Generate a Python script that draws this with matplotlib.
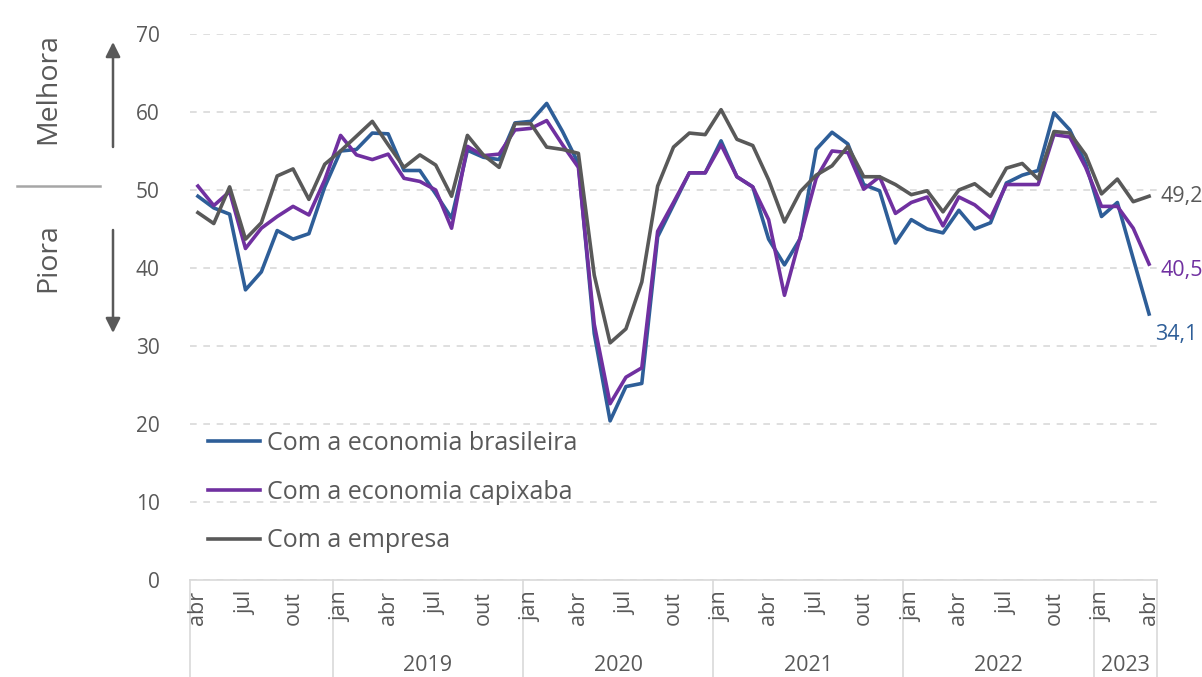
import numpy as np
import matplotlib
matplotlib.use("Agg")
from matplotlib import pyplot as plt
from matplotlib import transforms

# monthly series, abr/2018 to abr/2023
brasileira = [49.2, 47.7, 46.9, 37.2, 39.5, 44.8, 43.7, 44.4, 50.4, 55.0,
              55.2, 57.3, 57.2, 52.5, 52.5, 49.5, 46.4, 55.1, 54.2, 53.9,
              58.6, 58.8, 61.1, 57.5, 53.4, 31.6, 20.4, 24.8, 25.2, 44.0,
              48.1, 52.2, 52.2, 56.3, 51.7, 50.4, 43.7, 40.4, 43.8, 55.2,
              57.4, 55.9, 50.7, 49.9, 43.2, 46.2, 45.0, 44.5, 47.4, 45.0,
              45.8, 50.9, 51.9, 52.5, 59.9, 57.7, 53.4, 46.6, 48.4, 41.2,
              34.1]
capixaba = [50.5, 48.0, 49.8, 42.5, 45.1, 46.6, 47.9, 46.8, 51.3, 57.0,
            54.5, 53.9, 54.6, 51.5, 51.1, 50.0, 45.1, 55.6, 54.4, 54.6,
            57.7, 57.9, 58.9, 55.8, 52.9, 32.8, 22.6, 26.0, 27.2, 44.7,
            48.4, 52.2, 52.2, 55.8, 51.7, 50.4, 46.2, 36.5, 44.0, 51.5,
            55.0, 54.8, 50.1, 51.7, 47.0, 48.4, 49.1, 45.4, 49.1, 48.1,
            46.4, 50.7, 50.7, 50.7, 57.1, 56.8, 52.9, 47.9, 47.9, 45.1,
            40.5]
empresa = [47.1, 45.7, 50.4, 43.7, 45.8, 51.8, 52.7, 48.8, 53.3, 55.0,
           56.9, 58.8, 55.8, 52.9, 54.5, 53.2, 49.2, 57.0, 54.5, 52.9,
           58.5, 58.5, 55.5, 55.2, 54.7, 39.1, 30.4, 32.2, 38.2, 50.5,
           55.5, 57.3, 57.1, 60.3, 56.5, 55.7, 51.3, 45.9, 49.8, 51.9,
           53.1, 55.6, 51.7, 51.7, 50.7, 49.4, 49.9, 47.2, 50.0, 50.8,
           49.2, 52.8, 53.4, 51.4, 57.5, 57.3, 54.5, 49.5, 51.4, 48.5,
           49.2]

month_names = ['abr', 'jul', 'out', 'jan']
years = ['2019', '2020', '2021', '2022', '2023']

blue = '#2E5E98'
purple = '#7030A0'
gray = '#595959'
light = '#D9D9D9'

plt.rcParams['font.family'] = ['Open Sans', 'DejaVu Sans']

fig = plt.figure(figsize=(12.02, 6.77), dpi=100)
ax = fig.add_axes([190/1202, 1-580/677, 967/1202, 546/677])

x = np.arange(len(brasileira))
ax.plot(x, brasileira, color=blue, lw=2.6, label='Com a economia brasileira')
ax.plot(x, capixaba, color=purple, lw=2.6, label='Com a economia capixaba')
ax.plot(x, empresa, color=gray, lw=2.6, label='Com a empresa')

ax.set_xlim(-0.5, len(x) - 0.5)
ax.set_ylim(0, 70)
ax.set_yticks(range(0, 71, 10))
ax.yaxis.grid(True, color=light, linestyle=(0, (4, 4)), lw=1.2)
ax.set_axisbelow(True)
for s in ['left', 'right', 'top']:
    ax.spines[s].set_visible(False)
ax.spines['bottom'].set_color(light)
ax.spines['bottom'].set_linewidth(1.2)
ax.tick_params(axis='y', length=0, labelsize=15, labelcolor=gray, pad=22)
ax.tick_params(axis='x', length=0, labelbottom=False)

# category axis: months every 3, years below
trans = transforms.blended_transform_factory(ax.transData, ax.transAxes)
for k, i in enumerate(range(0, len(x), 3)):
    ax.text(i, -0.02, month_names[k % 4], transform=trans, rotation=90,
            ha='center', va='top', fontsize=15.5, color=gray)
seps = [-0.5, 8.5, 20.5, 32.5, 44.5, 56.5, len(x) - 0.5]
for s in seps:
    ax.plot([s, s], [0, -0.18], transform=trans, color=light, lw=1.2,
            clip_on=False)
for k, yr in enumerate(years):
    mid = (seps[k + 1] + seps[k + 2]) / 2
    ax.text(mid, -0.157, yr, transform=trans, ha='center', va='center',
            fontsize=15.5, color=gray)

# last values
ax.text(len(x) - 0.3, empresa[-1], '49,2', color=gray, fontsize=15.5,
        va='center', ha='left')
ax.text(len(x) - 0.3, capixaba[-1] - 0.8, '40,5', color=purple, fontsize=15.5,
        va='center', ha='left')
ax.text(len(x) - 0.6, brasileira[-1] - 2.6, '34,1', color=blue, fontsize=15.5,
        va='center', ha='left')

ax.legend(loc='upper left', bbox_to_anchor=(0.0, 0.305), frameon=False,
          fontsize=18, labelcolor=gray, handlelength=2.1,
          handletextpad=0.28, labelspacing=0.95, borderaxespad=0.3)

# Melhora / Piora
fig.text(48/1202, 1-88/677, 'Melhora', rotation=90, ha='center',
         va='center', fontsize=20.5, color=gray)
fig.text(48/1202, 1-258/677, 'Piora', rotation=90, ha='center',
         va='center', fontsize=20.5, color=gray)
ap = dict(arrowstyle='-|>', mutation_scale=22, color=gray, lw=1.8,
          shrinkA=0, shrinkB=0)
ax.annotate('', xy=(113, 677-42), xytext=(113, 677-147),
            xycoords='figure pixels', textcoords='figure pixels',
            arrowprops=ap)
ax.annotate('', xy=(113, 677-333), xytext=(113, 677-230),
            xycoords='figure pixels', textcoords='figure pixels',
            arrowprops=ap)
fig.add_artist(plt.Line2D([17/1202, 100/1202], [1-186/677, 1-186/677],
                          color='#A6A6A6', lw=1.8))

plt.savefig('out.png', dpi=100)
